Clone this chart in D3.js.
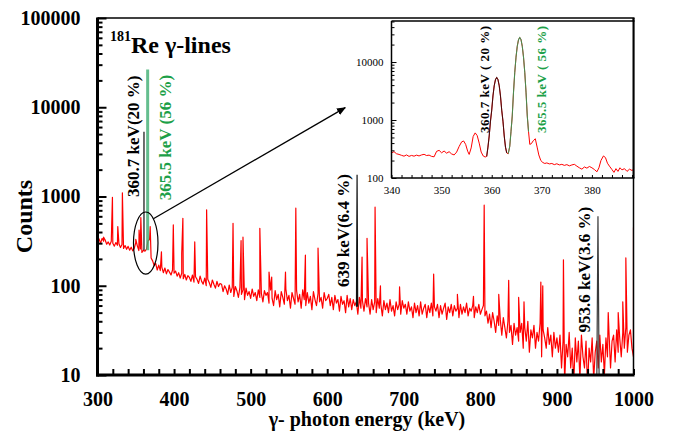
<!DOCTYPE html>
<html>
<head>
<meta charset="utf-8">
<script src="https://cdn.jsdelivr.net/npm/d3@7"></script>
<style>
  html, body { margin: 0; padding: 0; background: #fff; }
  svg { display: block; font-family: "Liberation Serif", "Times New Roman", serif; }
</style>
</head>
<body>
<svg id="chart" width="678" height="433"></svg>
<script>
// ---- Data ---------------------------------------------------------------
// Continuum counts, one value per 2 keV channel from 300 keV to 1000 keV.
const energyStart = 300;
const energyStep = 2;
const continuum = [
  // 300 - 346 keV
  310, 335, 298, 340, 315, 325, 292, 310, 286, 315, 300, 278, 305, 284, 296, 268, 290, 262, 282, 256, 276, 250, 270, 246,
  // 348 - 370 keV
  262, 305, 280, 248, 258, 236, 250, 244, 258, 320, 330, 205,
  // 372 - 400 keV
  190, 168, 178, 150, 170, 148, 162, 140, 158, 136, 152, 142, 132, 150, 138,
  // 402 - 460 keV
  146, 128, 140, 122, 138, 120, 134, 116, 130, 124, 112, 132, 110, 126, 118, 106, 128, 112, 104, 122,
  100, 118, 108, 96, 116, 104, 94, 112, 98, 106,
  // 462 - 520 keV
  104, 86, 100, 92, 80, 102, 84, 96, 76, 98, 88, 74, 96, 80, 90, 70, 94, 78, 86, 72,
  92, 76, 84, 68, 90, 74, 82, 66, 88, 78,
  // 522 - 600 keV
  84, 64, 90, 72, 60, 88, 70, 80, 58, 86, 74, 62, 92, 68, 78, 56, 84, 72, 62, 88,
  66, 80, 56, 90, 70, 60, 84, 64, 76, 54, 86, 70, 60, 82, 66, 74, 56, 84, 68, 72,
  // 602 - 700 keV
  80, 60, 74, 54, 78, 64, 70, 52, 76, 62, 68, 50, 78, 58, 72, 54, 70, 60, 66, 48,
  74, 56, 68, 52, 72, 58, 64, 48, 70, 54, 66, 50, 72, 56, 62, 46, 68, 54, 64, 50,
  70, 52, 60, 46, 66, 54, 62, 48, 68, 56,
  // 702 - 800 keV
  62, 48, 66, 52, 58, 44, 64, 50, 60, 46, 66, 48, 56, 62, 44, 60, 50, 64, 46, 58,
  52, 62, 44, 60, 48, 56, 64, 42, 58, 50, 62, 46, 60, 52, 56, 44, 62, 48, 58, 50,
  64, 46, 56, 52, 60, 44, 58, 50, 62, 48,
  // 802 - 850 keV
  54, 60, 46, 52, 38, 48, 34, 50, 40, 30, 46, 36, 42, 28, 44, 34, 26, 40, 30, 36, 22, 38, 28, 34, 24,
  // 852 - 900 keV
  30, 38, 20, 34, 24, 40, 18, 32, 26, 36, 20, 30, 24, 38, 16, 32, 26, 20, 34, 22, 28, 16, 30, 20, 26,
  // 902 - 1000 keV
  18, 28, 12, 24, 8, 22, 16, 30, 12, 20, 8, 26, 14, 24, 9, 28, 16, 12, 24, 7,
  20, 14, 26, 9, 18, 24, 12, 28, 14, 22, 10, 26, 16, 30, 12, 24, 28, 14, 32, 18,
  26, 16, 30, 20, 34, 18, 28, 32, 20, 16
];

// Other gamma lines in the spectrum: [energy keV, peak counts]
const peaks = [
  [308, 350], [319.5, 980], [326.5, 460], [332.5, 1100], [350, 330], [354.3, 420],
  [356.6, 580], [368.8, 460], [383.5, 240], [399, 480], [410, 230], [411.5, 570],
  [427, 310], [442.5, 710], [477, 500], [487.5, 320], [490, 350], [512, 440],
  [524, 142], [527.5, 125], [545.5, 142], [559, 740], [571.5, 220], [588, 265],
  [645.5, 210], [652, 340], [662.5, 760], [669.5, 100], [694.5, 97], [739, 135],
  [770, 80], [791, 76], [805, 800], [824, 80], [837, 115], [850, 74], [857, 66],
  [879, 110], [881.5, 100], [908.5, 195], [967, 50], [980, 50], [986, 66],
  [990, 205], [1000, 450]
];

// Labelled 181Re lines
const markedEnergies = [360.7, 365.5, 639, 953.6];
const markedCounts   = [5300, 26500, 1750, 600];
const markedBase     = [250, 250, 58, 9];
const markedLabels   = ["360.7 keV(20 %)", "365.5 keV (56 %)", "639 keV(6.4 %)", "953.6 keV(3.6 %)"];

// Close-up of the 340 - 388 keV region: [energy keV, counts]
const insetSpectrum = [
  [340, 270], [340.5, 285], [341, 262], [341.5, 255], [342, 246], [342.5, 238], [343, 250],
  [343.5, 236], [344, 245], [344.5, 238], [345, 248], [345.5, 240], [346, 250], [346.5, 256],
  [347, 244], [347.5, 248], [348, 236], [348.5, 232], [349, 288], [349.5, 300], [350, 272],
  [350.5, 292], [351, 268], [351.5, 284], [352, 260], [352.5, 250], [353, 280], [353.5, 350],
  [354, 420], [354.4, 435], [354.8, 380], [355.2, 290], [355.5, 255], [355.9, 330], [356.3, 520],
  [356.7, 600], [357.1, 540], [357.5, 400], [357.9, 280], [358.3, 240], [358.7, 230], [359.0, 236],
  [359.25, 340], [359.5, 530], [359.75, 950], [360, 1470], [360.25, 2600], [360.5, 3900],
  [360.75, 4980], [361, 5400], [361.25, 4980], [361.5, 3900], [361.75, 2600], [362, 1470],
  [362.25, 950], [362.5, 530], [362.75, 340], [363, 270], [363.3, 262], [363.6, 350],
  [363.85, 630], [364.1, 1170], [364.35, 3020], [364.6, 6600], [364.85, 12100], [365.1, 18700],
  [365.35, 24300], [365.6, 26500], [365.85, 24300], [366.1, 18700], [366.35, 12100], [366.6, 6600],
  [366.85, 3020], [367.1, 1170], [367.35, 630], [367.6, 380], [367.9, 390], [368.3, 440],
  [368.7, 475], [369.1, 330], [369.4, 250], [369.8, 200], [370.2, 185], [370.6, 178], [371, 182],
  [371.5, 175], [372, 178], [372.5, 170], [373, 176], [373.5, 168], [374, 172], [374.5, 165],
  [375, 170], [375.5, 162], [376, 168], [376.5, 172], [377, 160], [377.5, 150], [378, 142],
  [378.5, 155], [379, 148], [379.5, 158], [380, 150], [380.5, 140], [381, 128], [381.4, 150],
  [381.8, 200], [382.3, 240], [382.7, 225], [383.1, 180], [383.5, 160], [384, 140], [384.4, 125],
  [384.8, 145], [385.2, 130], [385.6, 150], [386, 138], [386.5, 145], [387, 130], [387.5, 142],
  [388, 135], [388.3, 140]
];
// Energy ranges of the two resolved lines in the close-up
const insetPeakRanges = [[359.0, 363.0], [363.3, 367.35]];
const insetLabels = ["360.7 keV ( 20 %)", "365.5 keV ( 56 %)"];
const insetPeakEnergies = [361.0, 365.6];

// Tick values
const mainXTicks = [300, 400, 500, 600, 700, 800, 900, 1000];
const mainYTicks = [10, 100, 1000, 10000, 100000];
const insetXTicks = [340, 350, 360, 370, 380];
const insetYTicks = [100, 1000, 10000];

// ---- Layout ---------------------------------------------------------------
const svg = d3.select("#chart");
const plot = { left: 97.5, right: 633.5, top: 18, bottom: 375 };
const inset = { left: 391.5, right: 633.5, top: 21, bottom: 178 };

const x = d3.scaleLinear().domain([300, 1000]).range([plot.left, plot.right]);
const y = d3.scaleLog().domain([10, 100000]).range([plot.bottom, plot.top]);
const ix = d3.scaleLinear().domain([340, 388.3]).range([inset.left, inset.right]);
const iy = d3.scaleLog().domain([100, 51000]).range([inset.bottom, inset.top]);

const RED = "#ff0000";
const GREEN_TEXT = "#1c9f48";
const GREEN_LINE = "#3fae72";

const defs = svg.append("defs");
defs.append("clipPath").attr("id", "main-clip").append("rect")
  .attr("x", plot.left).attr("y", plot.top)
  .attr("width", plot.right - plot.left).attr("height", plot.bottom - plot.top);
defs.append("clipPath").attr("id", "inset-clip").append("rect")
  .attr("x", inset.left).attr("y", inset.top)
  .attr("width", inset.right - inset.left).attr("height", inset.bottom - inset.top);
defs.append("marker").attr("id", "arrow-head")
  .attr("viewBox", "0 0 10 10").attr("refX", 9).attr("refY", 5)
  .attr("markerWidth", 7).attr("markerHeight", 7).attr("orient", "auto")
  .append("path").attr("d", "M0,1 L10,5 L0,9 Z").attr("fill", "#000");

// ---- Main spectrum --------------------------------------------------------
const points = continuum.map((c, i) => ({ e: energyStart + i * energyStep, c, p: 0 }))
  .concat(peaks.map(([e, c]) => ({ e, c, p: 1 })));
points.sort((a, b) => (a.e - b.e) || (a.p - b.p));

const line = d3.line().x(d => x(d.e)).y(d => y(Math.max(d.c, 1)));
svg.append("path")
  .datum(points)
  .attr("clip-path", "url(#main-clip)")
  .attr("d", line)
  .attr("fill", "none")
  .attr("stroke", RED)
  .attr("stroke-width", 1.2)
  .attr("stroke-linejoin", "round");

// Labelled lines
const markStyle = [
  { colour: "#202020", width: 1.3, half: 0,   labelColour: "#000",     dx: -5, labelFrom: 990 },
  { colour: GREEN_LINE, width: 3,  half: 0,   labelColour: GREEN_TEXT, dx: 23, labelFrom: 910 },
  { colour: "#111",    width: 1.2, half: 0.8, labelColour: "#000",     dx: -8, labelFrom: 97 },
  { colour: "#3a3a3a", width: 1.2, half: 1.5, labelColour: "#000",     dx: -8, labelFrom: 30 }
];
const marks = svg.append("g").attr("clip-path", "url(#main-clip)");
markedEnergies.forEach((e, i) => {
  const s = markStyle[i];
  const path = d3.path();
  path.moveTo(x(e - s.half), y(markedBase[i]));
  path.lineTo(x(e), y(markedCounts[i]));
  path.lineTo(x(e + s.half), y(markedBase[i]));
  marks.append("path")
    .attr("d", path.toString())
    .attr("fill", "none")
    .attr("stroke", s.colour)
    .attr("stroke-width", s.width)
    .attr("stroke-opacity", i === 1 ? 0.8 : 1);
});
markedEnergies.forEach((e, i) => {
  const s = markStyle[i];
  const tx = x(e) + s.dx, ty = y(s.labelFrom);
  svg.append("text")
    .attr("transform", `translate(${tx},${ty}) rotate(-90)`)
    .attr("font-size", 17).attr("font-weight", "bold")
    .attr("fill", s.labelColour)
    .text(markedLabels[i]);
});

// Ellipse around the 360.7 / 365.5 keV doublet and arrow to the close-up
const zoomWindow = { from: 347, to: 379, low: 135, high: 670 };
const ecx = (x(zoomWindow.from) + x(zoomWindow.to)) / 2;
const erx = (x(zoomWindow.to) - x(zoomWindow.from)) / 2;
const ecy = (y(zoomWindow.low) + y(zoomWindow.high)) / 2;
const ery = (y(zoomWindow.low) - y(zoomWindow.high)) / 2;
svg.append("ellipse")
  .attr("cx", ecx).attr("cy", ecy).attr("rx", erx).attr("ry", ery)
  .attr("fill", "none").attr("stroke", "#000").attr("stroke-width", 1.2);
const startAngle = -0.9;
const arrowTarget = { e: 623.5, c: 9900 };
svg.append("line")
  .attr("x1", ecx + erx * Math.cos(startAngle)).attr("y1", ecy + ery * Math.sin(startAngle))
  .attr("x2", x(arrowTarget.e)).attr("y2", y(arrowTarget.c))
  .attr("stroke", "#000").attr("stroke-width", 1.3)
  .attr("marker-end", "url(#arrow-head)");

// ---- Main axes --------------------------------------------------------------
function styleAxis(g, size) {
  g.attr("font-family", null).attr("font-size", null);
  g.selectAll("text").attr("font-size", size).attr("font-weight", "bold").attr("fill", "#000");
  g.selectAll("line").attr("stroke", "#000");
}
const minorDecades = [];
[10, 100, 1000, 10000].forEach(d => { for (let k = 2; k <= 9; k++) minorDecades.push(d * k); });

svg.append("g")
  .attr("transform", `translate(0,${plot.bottom})`)
  .call(d3.axisBottom(x).tickValues(d3.range(300, 1001, 20)).tickSize(-6).tickSizeOuter(0).tickFormat(""))
  .call(g => { g.select(".domain").remove(); g.selectAll("line").attr("stroke", "#000").attr("stroke-width", 2); });
svg.append("g")
  .attr("transform", `translate(0,${plot.bottom})`)
  .call(d3.axisBottom(x).tickValues(mainXTicks).tickSize(0).tickPadding(17).tickFormat(d3.format("d")))
  .call(g => { g.select(".domain").remove(); styleAxis(g, 20); });

svg.append("g")
  .attr("transform", `translate(${plot.left},0)`)
  .call(d3.axisLeft(y).tickValues(minorDecades).tickSize(-5).tickSizeOuter(0).tickFormat(""))
  .call(g => { g.select(".domain").remove(); g.selectAll("line").attr("stroke", "#000").attr("stroke-width", 2); });
svg.append("g")
  .attr("transform", `translate(${plot.left},0)`)
  .call(d3.axisLeft(y).tickValues(mainYTicks).tickSize(-9).tickSizeOuter(0).tickPadding(19).tickFormat(d3.format("d")))
  .call(g => { g.select(".domain").remove(); styleAxis(g, 20); g.selectAll("line").attr("stroke-width", 2); g.selectAll("text").attr("x", -17); });

// Frame
svg.append("line").attr("x1", plot.left).attr("x2", plot.right + 1).attr("y1", plot.top).attr("y2", plot.top)
  .attr("stroke", "#000").attr("stroke-width", 1.5);
svg.append("line").attr("x1", plot.right).attr("x2", plot.right).attr("y1", plot.top).attr("y2", plot.bottom)
  .attr("stroke", "#000").attr("stroke-width", 1.5);
svg.append("line").attr("x1", plot.left).attr("x2", plot.left).attr("y1", plot.top - 0.5).attr("y2", plot.bottom + 1.5)
  .attr("stroke", "#000").attr("stroke-width", 3);
svg.append("line").attr("x1", plot.left - 1.5).attr("x2", plot.right + 1).attr("y1", plot.bottom).attr("y2", plot.bottom)
  .attr("stroke", "#000").attr("stroke-width", 3);

// ---- Close-up -------------------------------------------------------------
svg.append("rect")
  .attr("x", inset.left).attr("y", inset.top)
  .attr("width", inset.right - inset.left).attr("height", inset.bottom - inset.top)
  .attr("fill", "#fff");

const iline = d3.line().x(d => ix(d[0])).y(d => iy(d[1]));
const ig = svg.append("g").attr("clip-path", "url(#inset-clip)");
ig.append("path").datum(insetSpectrum).attr("d", iline)
  .attr("fill", "none").attr("stroke", RED).attr("stroke-width", 1);
const insetPeakColours = ["#2a0a0a", "#2aa05a"];
insetPeakRanges.forEach(([a, b], i) => {
  ig.append("path").datum(insetSpectrum.filter(d => d[0] >= a && d[0] <= b)).attr("d", iline)
    .attr("fill", "none").attr("stroke", insetPeakColours[i]).attr("stroke-width", 1.1)
    .attr("stroke-opacity", 0.85);
});

// close-up axes
const insetMinor = [];
[100, 1000, 10000].forEach(d => { for (let k = 2; k <= 9; k++) if (d * k <= 51000) insetMinor.push(d * k); });
svg.append("g").attr("transform", `translate(${inset.left},0)`)
  .call(d3.axisLeft(iy).tickValues(insetMinor).tickSize(-3).tickSizeOuter(0).tickFormat(""))
  .call(g => { g.select(".domain").remove(); g.selectAll("line").attr("stroke", "#000"); });
svg.append("g").attr("transform", `translate(${inset.left},0)`)
  .call(d3.axisLeft(iy).tickValues(insetYTicks).tickSize(-5).tickSizeOuter(0).tickPadding(8).tickFormat(d3.format("d")))
  .call(g => { g.select(".domain").remove(); styleAxis(g, 11); g.selectAll("text").attr("font-weight", "normal"); });
svg.append("g").attr("transform", `translate(0,${inset.bottom})`)
  .call(d3.axisBottom(ix).tickValues(d3.range(340, 389, 2)).tickSize(-3).tickSizeOuter(0).tickFormat(""))
  .call(g => { g.select(".domain").remove(); g.selectAll("line").attr("stroke", "#000"); });
svg.append("g").attr("transform", `translate(0,${inset.bottom})`)
  .call(d3.axisBottom(ix).tickValues(insetXTicks).tickSize(0).tickPadding(8).tickFormat(d3.format("d")))
  .call(g => { g.select(".domain").remove(); styleAxis(g, 11); g.selectAll("text").attr("font-weight", "normal"); });

// close-up frame
svg.append("line").attr("x1", inset.left).attr("x2", inset.left).attr("y1", inset.top).attr("y2", inset.bottom)
  .attr("stroke", "#000").attr("stroke-width", 1.5);
svg.append("line").attr("x1", inset.left).attr("x2", inset.right + 1).attr("y1", inset.bottom).attr("y2", inset.bottom)
  .attr("stroke", "#000").attr("stroke-width", 1.5);
svg.append("line").attr("x1", inset.left).attr("x2", inset.right + 1).attr("y1", inset.top).attr("y2", inset.top)
  .attr("stroke", "#000").attr("stroke-width", 1.5);
svg.append("line").attr("x1", inset.right).attr("x2", inset.right).attr("y1", plot.top).attr("y2", inset.bottom)
  .attr("stroke", "#000").attr("stroke-width", 2);

const insetLabelStyle = [
  { colour: "#000", dx: -8 },
  { colour: GREEN_TEXT, dx: 26.5 }
];
insetLabels.forEach((t, i) => {
  const s = insetLabelStyle[i];
  svg.append("text")
    .attr("transform", `translate(${ix(insetPeakEnergies[i]) + s.dx},${iy(597)}) rotate(-90)`)
    .attr("font-size", 13).attr("font-weight", "bold").attr("letter-spacing", 0.5)
    .attr("fill", s.colour)
    .text(t);
});

// ---- Titles ---------------------------------------------------------------
const title = svg.append("text").attr("x", 110).attr("y", 53)
  .attr("font-weight", "bold").attr("font-size", 24).attr("fill", "#000");
title.append("tspan").attr("font-size", 14).attr("dy", -12).text("181");
title.append("tspan").attr("dy", 12).text("Re γ-lines");

svg.append("text")
  .attr("transform", `translate(32,${(plot.top + plot.bottom) / 2 + 20}) rotate(-90)`)
  .attr("text-anchor", "middle").attr("font-size", 24).attr("font-weight", "bold")
  .text("Counts");
svg.append("text")
  .attr("x", 367).attr("y", 426)
  .attr("text-anchor", "middle").attr("font-size", 20).attr("font-weight", "bold")
  .text("γ- photon energy (keV)");
</script>
</body>
</html>
